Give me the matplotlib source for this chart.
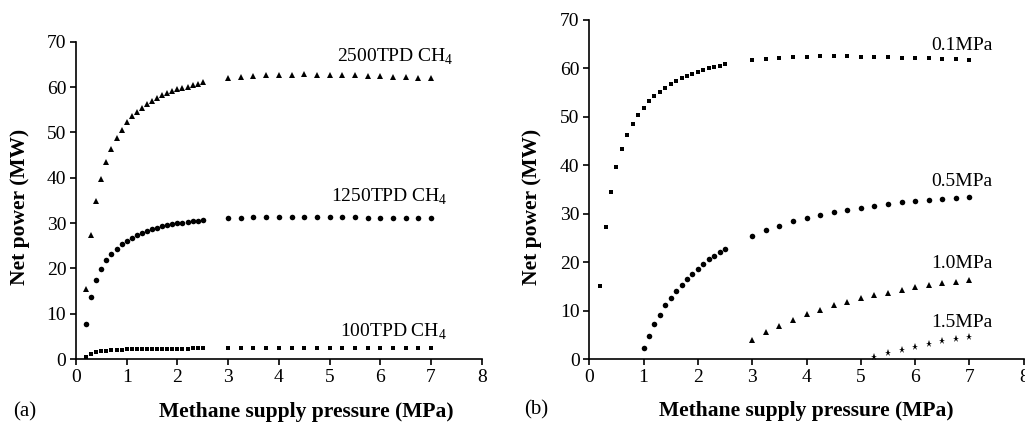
import numpy as np
import matplotlib.pyplot as plt

plt.rcParams['font.family'] = ['Liberation Serif', 'DejaVu Serif']
plt.rcParams['mathtext.fontset'] = 'custom'
plt.rcParams['mathtext.rm'] = 'Liberation Serif'

# pressure grid (MPa)
p_low = [0.2, 0.3, 0.4, 0.5, 0.6, 0.7, 0.8, 0.9, 1.0, 1.1, 1.2, 1.3,
         1.4, 1.5, 1.6, 1.7, 1.8, 1.9, 2.0, 2.1, 2.2, 2.3, 2.4, 2.5]
p_high = [3.0, 3.25, 3.5, 3.75, 4.0, 4.25, 4.5, 4.75, 5.0, 5.25, 5.5,
          5.75, 6.0, 6.25, 6.5, 6.75, 7.0]

# (a) net power for different methane flow rates
tpd2500 = [15.4, 27.4, 34.8, 39.8, 43.5, 46.4, 48.7, 50.6, 52.2, 53.5, 54.5, 55.4,
           56.2, 57.0, 57.6, 58.2, 58.7, 59.1, 59.5, 59.8, 60.1, 60.4, 60.7, 61.0,
           62.1, 62.3, 62.4, 62.6, 62.6, 62.7, 62.8, 62.7, 62.7, 62.6, 62.6,
           62.5, 62.4, 62.3, 62.3, 62.1, 62.0]
tpd1250 = [7.7, 13.7, 17.4, 19.9, 21.8, 23.2, 24.3, 25.3, 26.1, 26.8, 27.4, 27.9,
           28.3, 28.7, 29.0, 29.3, 29.6, 29.8, 30.0, 30.1, 30.3, 30.4, 30.5, 30.7,
           31.0, 31.2, 31.3, 31.3, 31.4, 31.4, 31.4, 31.4, 31.3, 31.3, 31.3,
           31.2, 31.2, 31.2, 31.1, 31.0, 31.0]
tpd100 = [0.5, 1.2, 1.5, 1.7, 1.8, 1.9, 2.0, 2.0, 2.1, 2.1, 2.1, 2.2,
          2.2, 2.2, 2.2, 2.3, 2.3, 2.3, 2.3, 2.3, 2.3, 2.4, 2.4, 2.4,
          2.4, 2.4, 2.4, 2.4, 2.4, 2.4, 2.4, 2.4, 2.4, 2.4, 2.4,
          2.4, 2.4, 2.4, 2.4, 2.4, 2.4]

# (b) net power for different back pressures
mpa01 = [15.2, 27.2, 34.6, 39.6, 43.3, 46.2, 48.5, 50.3, 51.9, 53.2, 54.3, 55.2,
         56.0, 56.8, 57.4, 58.0, 58.4, 58.9, 59.3, 59.7, 60.0, 60.3, 60.6, 60.9,
         61.7, 61.9, 62.1, 62.3, 62.4, 62.5, 62.5, 62.5, 62.4, 62.4, 62.3,
         62.2, 62.2, 62.1, 62.0, 61.9, 61.8]
x05 = p_low[8:] + p_high
mpa05 = [2.3, 4.9, 7.2, 9.2, 11.1, 12.6, 14.1, 15.4, 16.6, 17.7, 18.7, 19.7,
         20.6, 21.3, 22.1, 22.8,
         25.4, 26.6, 27.6, 28.5, 29.1, 29.8, 30.4, 30.9, 31.2, 31.7, 32.0,
         32.4, 32.7, 32.9, 33.1, 33.2, 33.4]
mpa10 = [3.9, 5.6, 6.9, 8.1, 9.3, 10.2, 11.1, 11.9, 12.6, 13.2, 13.7,
         14.4, 14.9, 15.3, 15.7, 16.0, 16.4]
x15 = p_high[9:]
mpa15 = [0.5, 1.2, 2.0, 2.5, 3.2, 3.7, 4.1, 4.6]

p_all = p_low + p_high

fig = plt.figure(figsize=(10.25, 4.22), dpi=100)
W, H = 1025., 422.
ax1 = fig.add_axes([76/W, 1-359/H, (481.7-76)/W, (359-41.7)/H])
ax2 = fig.add_axes([589.3/W, 1-359.3/H, (1023.7-589.3)/W, (359.3-20)/H])

ms = 4.0
ax1.plot(p_all, tpd2500, '^', color='black', ms=ms+0.6, mew=0)
ax1.plot(p_all, tpd1250, 'o', color='black', ms=ms, mew=0)
ax1.plot(p_all, tpd100, 's', color='black', ms=3.0, mew=0)

ax2.plot(p_all, mpa01, 's', color='black', ms=3.3, mew=0)
ax2.plot(x05, mpa05, 'o', color='black', ms=ms, mew=0)
ax2.plot(p_high, mpa10, '^', color='black', ms=ms+0.6, mew=0)
ax2.plot(x15, mpa15, '*', color='black', ms=ms+1.2, mew=0)

fs_lab = 14
ax1.text(7.45, 66.7, r'2500TPD CH$_4$', ha='right', va='center', fontsize=fs_lab)
ax1.text(7.32, 35.8, r'1250TPD CH$_4$', ha='right', va='center', fontsize=fs_lab)
ax1.text(7.32, 6.0, r'100TPD CH$_4$', ha='right', va='center', fontsize=fs_lab)

ax2.text(7.42, 64.8, '0.1MPa', ha='right', va='center', fontsize=fs_lab)
ax2.text(7.42, 36.6, '0.5MPa', ha='right', va='center', fontsize=fs_lab)
ax2.text(7.42, 19.8, '1.0MPa', ha='right', va='center', fontsize=fs_lab)
ax2.text(7.42, 7.5, '1.5MPa', ha='right', va='center', fontsize=fs_lab)

for ax in (ax1, ax2):
    ax.set_xlim(0, 8)
    ax.set_ylim(0, 70)
    ax.set_xticks(range(0, 9))
    ax.set_yticks(range(0, 71, 10))
    ax.spines['top'].set_visible(False)
    ax.spines['right'].set_visible(False)
    ax.spines['left'].set_linewidth(1.2)
    ax.spines['bottom'].set_linewidth(1.2)
    ax.tick_params(direction='out', length=4, width=1.2, labelsize=14, pad=3)
    ax.set_xlabel('Methane supply pressure (MPa)', fontsize=15.5, fontweight='bold')
    ax.set_ylabel('Net power (MW)', fontsize=15.5, fontweight='bold')
    for sp in ax.spines.values():
        sp.set_clip_on(False)

# label positions (left x label is right of centre)
ax1.xaxis.set_label_coords(0.567, -0.136)
ax2.xaxis.set_label_coords(0.5, -0.124)
ax1.yaxis.set_label_coords(-0.113, 0.48)
ax2.yaxis.set_label_coords(-0.109, 0.45)

fig.text(13/W, 1-412/H, '(a)', fontsize=15, va='center', ha='left')
fig.text(524/W, 1-410/H, '(b)', fontsize=15, va='center', ha='left')

fig.savefig('out.png', dpi=100)
